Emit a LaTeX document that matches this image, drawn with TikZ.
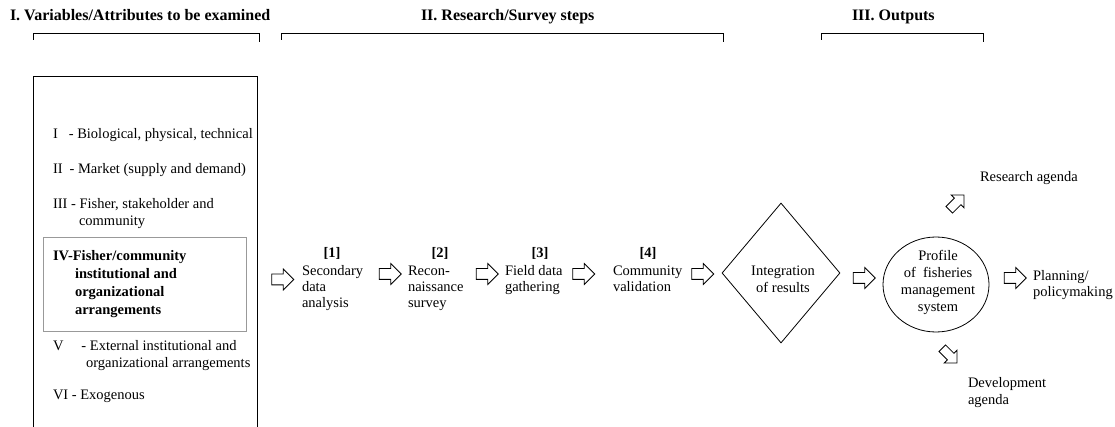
\documentclass[tikz,border=0pt]{standalone}
\usepackage{fontspec}
\setmainfont{Liberation Serif}
\usetikzlibrary{shapes.geometric,shapes.arrows}
\begin{document}
\begin{tikzpicture}[x=1pt,y=-1pt,line width=0.8pt,
  txt/.style={inner sep=0pt, outer sep=0pt, font=\fontsize{14.5}{17}\selectfont, align=left},
  hdr/.style={inner sep=0pt, outer sep=0pt, font=\fontsize{16}{19}\selectfont\bfseries},
  harrow/.style={single arrow, draw, minimum height=22pt,
    single arrow head extend=5pt, single arrow tip angle=90, inner sep=0pt},
  darrow/.style={harrow, minimum height=21pt, single arrow head extend=4.5pt}
]
\useasboundingbox (0,0) rectangle (1115,427);
% headers
\node[hdr, anchor=base west] (h1) at (10,21) {I. Variables/Attributes to be examined};
\node[hdr, anchor=base west] (h2) at (421,21) {II. Research/Survey steps};
\node[hdr, anchor=base west] (h3) at (852,21) {III. Outputs};
% brackets
\draw (33,40) -- (33,33) -- (259,33) -- (259,42);
\draw (281,40) -- (281,33) -- (723,33) -- (723,42);
\draw (821,40) -- (821,33) -- (983,33) -- (983,42);
% left box
\draw (33,427) -- (33,76) -- (257,76) -- (257,427);
\node[draw=gray!80, line width=0.8pt, minimum width=203pt, minimum height=94pt, inner sep=0pt, anchor=north west] (ivbox) at (43,237) {};
\node[txt, anchor=base west] (v1) at (53,139) {I\hspace*{11pt}- Biological, physical, technical};
\node[txt, anchor=base west] (v2) at (53,174) {II\hspace*{7pt}- Market (supply and demand)};
\node[txt, anchor=base west] (v3) at (53,226) {III - Fisher, stakeholder and\\\hspace*{26pt}community};
\node[txt, anchor=base west, font=\fontsize{14.5}{17.7}\selectfont\bfseries] (v4) at (53,314) {IV-Fisher/community\\\hspace*{22pt}institutional and\\\hspace*{22pt}organizational\\\hspace*{22pt}arrangements};
\node[txt, anchor=base west] (v5) at (53,367) {V\hspace*{18pt}- External institutional and\\\hspace*{33pt}organizational arrangements};
\node[txt, anchor=base west] (v6) at (53,399) {VI - Exogenous};
% steps
\node[txt, anchor=base, font=\fontsize{14.5}{17}\selectfont\bfseries] (n1) at (332,258) {[1]};
\node[txt, anchor=base, font=\fontsize{14.5}{17}\selectfont\bfseries] (n2) at (440,258) {[2]};
\node[txt, anchor=base, font=\fontsize{14.5}{17}\selectfont\bfseries] (n3) at (540,258) {[3]};
\node[txt, anchor=base, font=\fontsize{14.5}{17}\selectfont\bfseries] (n4) at (648,258) {[4]};
\node[txt, anchor=base west, font=\fontsize{14.5}{16}\selectfont] (s1) at (302,307) {Secondary\\data\\analysis};
\node[txt, anchor=base west, font=\fontsize{14.5}{16}\selectfont] (s2) at (408,307) {Recon-\\naissance\\survey};
\node[txt, anchor=base west, font=\fontsize{14.5}{16}\selectfont] (s3) at (505,291) {Field data\\gathering};
\node[txt, anchor=base west, font=\fontsize{14.5}{16}\selectfont] (s4) at (613,291) {Community\\validation};
% diamond
\node[draw, diamond, minimum width=118pt, minimum height=140pt, inner sep=0pt] (integ) at (781,273) {};
\node[txt, align=center] (integt) at (783,279) {Integration\\of results};
% ellipse
\node[draw, ellipse, minimum width=106pt, minimum height=95pt, inner sep=0pt] (prof) at (936,284.5) {};
\node[txt, align=center] (proft) at (938,282) {Profile\\of~~fisheries\\management\\system};
% arrows
\node[harrow] (a1) at (280,279.5) {\rule{0pt}{10pt}};
\node[harrow] (a2) at (387.5,274) {\rule{0pt}{10pt}};
\node[harrow] (a3) at (484.5,274) {\rule{0pt}{10pt}};
\node[harrow] (a4) at (581,274) {\rule{0pt}{10pt}};
\node[harrow] (a5) at (700,274) {\rule{0pt}{10pt}};
\node[harrow] (a6) at (861.5,278) {\rule{0pt}{10pt}};
\node[harrow] (a7) at (1012.5,278) {\rule{0pt}{10pt}};
\node[darrow, rotate=45] (a8) at (955,204) {\rule{0pt}{8.5pt}};
\node[darrow, rotate=-45] (a9) at (948,354) {\rule{0pt}{8.5pt}};
% outputs
\node[txt, anchor=base west] (ra) at (980,182) {Research agenda};
\node[txt, anchor=base west] (pp) at (1033,297) {Planning/\\policymaking};
\node[txt, anchor=base west] (da) at (968,404) {Development\\agenda};
\end{tikzpicture}
\end{document}
